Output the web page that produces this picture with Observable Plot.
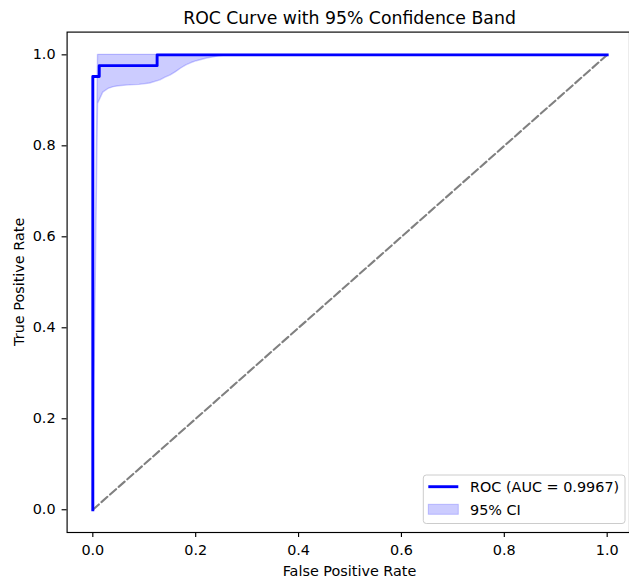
<!DOCTYPE html>
<html><head><meta charset="utf-8">
<script src="https://cdn.jsdelivr.net/npm/d3@7"></script>
<script src="https://cdn.jsdelivr.net/npm/@observablehq/plot@0.6"></script>
<style>
body{margin:0;background:#fff;}
#chart svg{font-family:"DejaVu Sans",sans-serif;}
</style>
</head><body><div id="chart"></div>
<script>
// ROC step curve
const rocFpr = [0, 0, 0.0125, 0.0125, 0.125, 0.125, 1];
const rocTpr = [0, 0.9524, 0.9524, 0.9762, 0.9762, 1, 1];
// 95% confidence band
const ciFpr   = [0, 0.0101, 0.0202, 0.0303, 0.0404, 0.0505, 0.0707, 0.0909, 0.1111, 0.1313, 0.1414, 0.1515, 0.1616, 0.1717, 0.1818, 0.1919, 0.2020, 0.2222, 0.2424, 0.2626, 0.2828, 1.0];
const ciLower = [0, 0.892, 0.917, 0.925, 0.929, 0.931, 0.933, 0.934, 0.937, 0.944, 0.950, 0.955, 0.962, 0.970, 0.977, 0.982, 0.986, 0.992, 0.996, 0.999, 1.0, 1.0];
const ciUpper = [0, 1, 1, 1, 1, 1, 1, 1, 1, 1, 1, 1, 1, 1, 1, 1, 1, 1, 1, 1, 1, 1];
// chance diagonal
const diagFpr = [0, 1];
const diagTpr = [0, 1];
// ticks
const tickValues = [0, 0.2, 0.4, 0.6, 0.8, 1.0];
const tickLabels = ["0.0", "0.2", "0.4", "0.6", "0.8", "1.0"];
// texts
const titleText = "ROC Curve with 95% Confidence Band";
const xLabel = "False Positive Rate";
const yLabel = "True Positive Rate";
const legendLabels = ["ROC (AUC = 0.9967)", "95% CI"];

const roc = rocFpr.map((f, i) => ({fpr: f, tpr: rocTpr[i]}));
const band = ciFpr.map((f, i) => ({fpr: f, lower: ciLower[i], upper: ciUpper[i]}));
const diag = diagFpr.map((f, i) => ({fpr: f, tpr: diagTpr[i]}));
const fmt = d => tickLabels[tickValues.findIndex(v => Math.abs(v - d) < 1e-9)];

const W = 629, H = 579, FS = 14.4;
const plot = Plot.plot({
  width: W, height: H,
  marginLeft: 66.6, marginRight: 0, marginTop: 31.6, marginBottom: 47,
  style: {fontFamily: "DejaVu Sans", fontSize: FS + "px", color: "black", background: "white"},
  x: {domain: [-0.05, 1.05], range: [66.6, 632.4]},
  y: {domain: [-0.05, 1.05], range: [532, 31.6]},
  marks: [
    Plot.areaY(band, {x: "fpr", y1: "lower", y2: "upper", fill: "blue", fillOpacity: 0.2, stroke: "blue", strokeOpacity: 0.2, strokeWidth: 1.4}),
    Plot.line(diag, {x: "fpr", y: "tpr", stroke: "gray", strokeWidth: 2.1, strokeDasharray: "8,3.5"}),
    Plot.line(roc, {x: "fpr", y: "tpr", stroke: "blue", strokeWidth: 2.9, strokeLinejoin: "round", strokeLinecap: "square"}),
    Plot.axisX(tickValues, {anchor: "bottom", tickFormat: fmt, tickSize: 5, tickPadding: 7.5, strokeWidth: 1.15, stroke: "black", fill: "black", fontSize: FS, label: null}),
    Plot.axisY(tickValues, {anchor: "left", tickFormat: fmt, tickSize: 5, tickPadding: 6.5, strokeWidth: 1.15, stroke: "black", fill: "black", fontSize: FS, label: null}),
    Plot.frame({stroke: "black", strokeWidth: 1.15})
  ]
});
document.getElementById("chart").appendChild(plot);

const svg = d3.select(plot);
svg.append("text").attr("x", 349.5).attr("y", 23.5).attr("text-anchor", "middle")
  .attr("font-size", 17.3).attr("fill", "black").text(titleText);
svg.append("text").attr("x", 349.5).attr("y", 576.3).attr("text-anchor", "middle")
  .attr("font-size", FS).attr("fill", "black").text(xLabel);
svg.append("text").attr("transform", "translate(23.5,281.8) rotate(-90)").attr("text-anchor", "middle")
  .attr("font-size", FS).attr("fill", "black").text(yLabel);

// legend
const lg = svg.append("g");
lg.append("rect").attr("x", 423.3).attr("y", 475).attr("width", 201.7).attr("height", 48.5).attr("rx", 3)
  .attr("fill", "white").attr("fill-opacity", 0.8).attr("stroke", "#cccccc").attr("stroke-width", 1);
lg.append("line").attr("x1", 428.3).attr("x2", 458.3).attr("y1", 486.7).attr("y2", 486.7)
  .attr("stroke", "blue").attr("stroke-width", 2.9);
lg.append("rect").attr("x", 428.3).attr("y", 504.3).attr("width", 30).attr("height", 10)
  .attr("fill", "blue").attr("fill-opacity", 0.2).attr("stroke", "blue").attr("stroke-opacity", 0.2);
lg.append("text").attr("x", 470).attr("y", 492).attr("text-anchor", "start")
  .attr("font-size", FS).attr("fill", "black").text(legendLabels[0]);
lg.append("text").attr("x", 470).attr("y", 514.6).attr("text-anchor", "start")
  .attr("font-size", FS).attr("fill", "black").text(legendLabels[1]);
</script>
</body></html>
